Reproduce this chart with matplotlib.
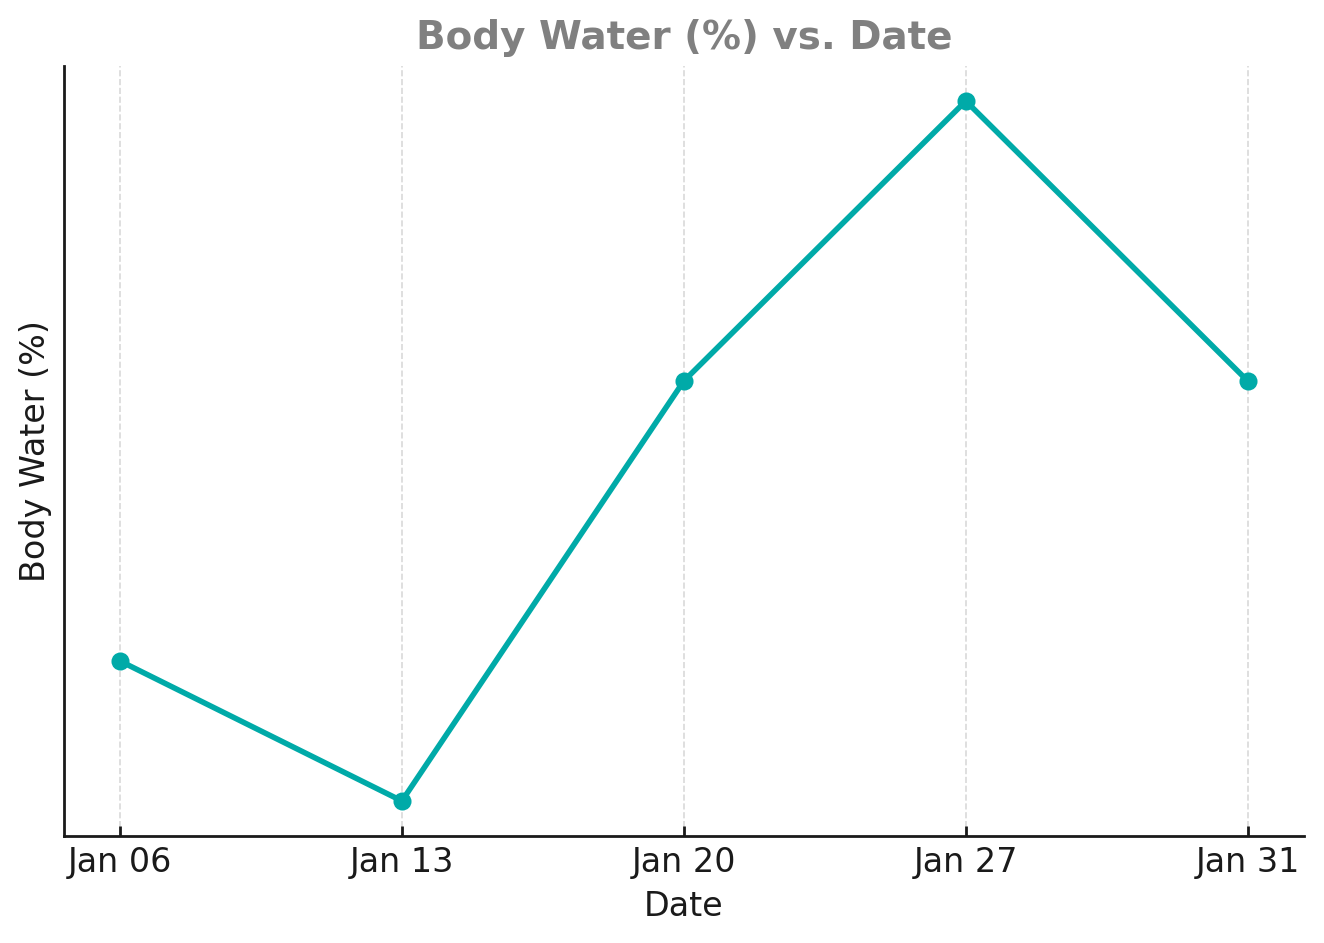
import matplotlib
matplotlib.use('Agg')
import matplotlib.pyplot as plt

dates = ['Jan 06', 'Jan 13', 'Jan 20', 'Jan 27', 'Jan 31']
body_water = [55.2, 55.0, 55.6, 56.0, 55.6]

text_color = '#1a1a1a'

fig, ax = plt.subplots(figsize=(6.62, 4.715), dpi=200)
ax.plot(dates, body_water, color='#00aaa8', linewidth=2.0, marker='o', markersize=5.5)

ax.set_title('Body Water (%) vs. Date', fontsize=14, fontweight='bold', color='gray', pad=6)
ax.set_xlabel('Date', fontsize=12, color=text_color, labelpad=4)
ax.set_ylabel('Body Water (%)', fontsize=12, color=text_color, labelpad=4)

ax.grid(axis='x', linestyle='--', color='#d9d9d9', linewidth=0.6)
ax.set_yticks([])
ax.tick_params(axis='x', direction='in', labelsize=12, colors=text_color, width=1.0)
for side in ['top', 'right']:
    ax.spines[side].set_visible(False)
for side in ['left', 'bottom']:
    ax.spines[side].set_color(text_color)
    ax.spines[side].set_linewidth(1.0)

fig.subplots_adjust(left=0.048, right=0.985, bottom=0.1135, top=0.930)
fig.savefig('out.png', dpi=200)
